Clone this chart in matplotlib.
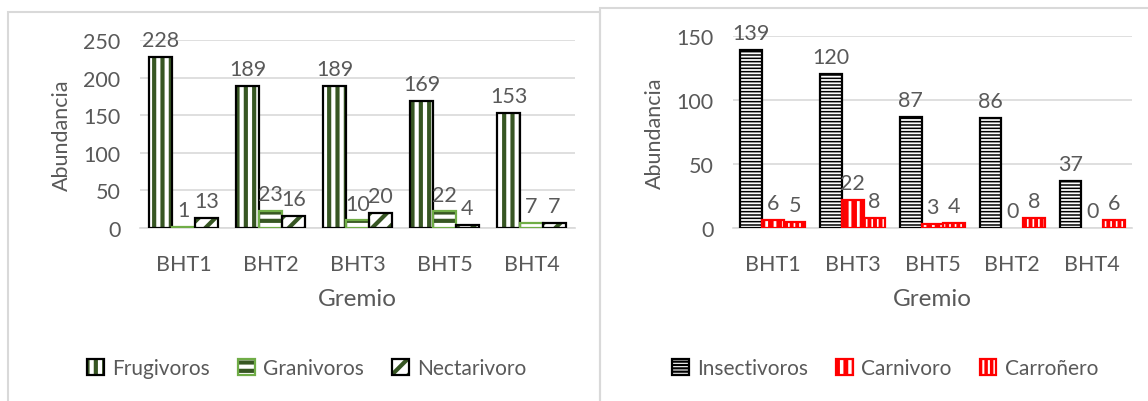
import numpy as np
import matplotlib.pyplot as plt
from matplotlib.patches import Rectangle
from matplotlib.legend_handler import HandlerTuple

plt.rcParams['font.family'] = ['Lato', 'DejaVu Sans']

# gremios frugivoros / granivoros / nectarivoros
sitios_izq = ['BHT1', 'BHT2', 'BHT3', 'BHT5', 'BHT4']
frugivoros = [228, 189, 189, 169, 153]
granivoros = [1, 23, 10, 22, 7]
nectarivoro = [13, 16, 20, 4, 7]

# gremios insectivoros / carnivoros / carroñeros
sitios_der = ['BHT1', 'BHT3', 'BHT5', 'BHT2', 'BHT4']
insectivoros = [139, 120, 87, 86, 37]
carnivoro = [6, 22, 3, 0, 0]
carronero = [5, 8, 4, 8, 6]

GRIS = '#595959'
REJILLA = '#D9D9D9'
VERDE = '#375623'
VERDE_CLARO = '#70AD47'
ROJO = '#FF0000'
W, H = 1148, 402
FS = 15.5


def barras(ax, x, vals, off, w, hatch, hcolor, ecolor, hlw):
    with plt.rc_context({'hatch.linewidth': hlw}):
        relleno = ax.bar(x + off, vals, w, color='white', edgecolor=hcolor,
                         hatch=hatch, linewidth=0, zorder=2)
    borde = ax.bar(x + off, vals, w, fill=False, edgecolor=ecolor,
                   linewidth=1.6, zorder=3)
    for p, q, v in zip(relleno, borde, vals):
        if v == 0:
            p.set_visible(False)
            q.set_visible(False)
    ax.bar_label(borde, labels=[str(v) for v in vals], padding=5,
                 fontsize=FS, color=GRIS)
    return relleno[0], borde[0]


def estilo(ax, sitios, ymax, paso):
    ax.set_xlim(-0.5, len(sitios) - 0.5)
    ax.set_ylim(0, ymax)
    ax.set_yticks(np.arange(0, ymax + 1, paso))
    ax.set_xticks(np.arange(len(sitios)))
    ax.set_xticklabels(sitios)
    for s in ['top', 'right', 'left']:
        ax.spines[s].set_visible(False)
    ax.spines['bottom'].set_color(REJILLA)
    ax.spines['bottom'].set_linewidth(1.2)
    ax.grid(axis='y', color=REJILLA, linewidth=1.2)
    ax.set_axisbelow(True)
    ax.tick_params(length=0, labelsize=FS, labelcolor=GRIS)
    ax.tick_params(axis='x', pad=19)
    ax.tick_params(axis='y', pad=14)
    ax.set_ylabel('Abundancia', fontsize=15.5, color=GRIS, labelpad=8)
    ax.set_xlabel('Gremio', fontsize=17.5, color=GRIS, labelpad=10)


fig = plt.figure(figsize=(W / 100, H / 100), dpi=100)

# marcos de cada grafico
fig.add_artist(Rectangle((8 / W, -0.05), (600 - 8) / W, 1 - 13 / H + 0.05,
                         transform=fig.transFigure, fill=False,
                         edgecolor=REJILLA, linewidth=1.5))
fig.add_artist(Rectangle((600 / W, -0.05), 560 / W, 1 - 9 / H + 0.05,
                         transform=fig.transFigure, fill=False,
                         edgecolor=REJILLA, linewidth=1.5))

ax1 = fig.add_axes([140 / W, 1 - 229 / H, 435 / W, 188 / H])
ax2 = fig.add_axes([733 / W, 1 - 229 / H, 399 / W, 192 / H])

x = np.arange(len(sitios_izq))
w1 = 0.264
h_fru = barras(ax1, x, frugivoros, -w1, w1, '||', VERDE, 'black', 3.0)
h_gra = barras(ax1, x, granivoros, 0, w1, '--', VERDE, VERDE_CLARO, 3.0)
h_nec = barras(ax1, x, nectarivoro, w1, w1, '//', VERDE, 'black', 3.0)
estilo(ax1, sitios_izq, 250, 50)

x = np.arange(len(sitios_der))
w2 = 0.272
h_ins = barras(ax2, x, insectivoros, -w2, w2, '-----', 'black', 'black', 1.1)
h_car = barras(ax2, x, carnivoro, 0, w2, '||', ROJO, ROJO, 4.0)
h_cao = barras(ax2, x, carronero, w2, w2, '|||', ROJO, ROJO, 2.8)
estilo(ax2, sitios_der, 150, 50)

ley = dict(handler_map={tuple: HandlerTuple(ndivide=1)}, loc='center', ncol=3,
           frameon=False, handlelength=0.8, handleheight=0.8,
           columnspacing=1.35, handletextpad=0.4, fontsize=15,
           labelcolor=GRIS)
ley1 = fig.legend([h_fru, h_gra, h_nec],
                  ['Frugivoros', 'Granivoros', 'Nectarivoro'],
                  bbox_to_anchor=(307 / W, 1 - 369 / H), **ley)
ley2 = fig.legend([h_ins, h_car, h_cao],
                  ['Insectivoros', 'Carnivoro', 'Carroñero'],
                  bbox_to_anchor=(885 / W, 1 - 369 / H), **ley)

# grosor de las tramas en los cuadros de la leyenda
for leg, grosores in [(ley1, [3.0, 3.0, 3.0]), (ley2, [1.6, 3.5, 2.5])]:
    for art, g in zip(leg.legend_handles, grosores):
        if hasattr(art, 'set_hatch_linewidth'):
            art.set_hatch_linewidth(g)

fig.savefig('out.png', dpi=100)
